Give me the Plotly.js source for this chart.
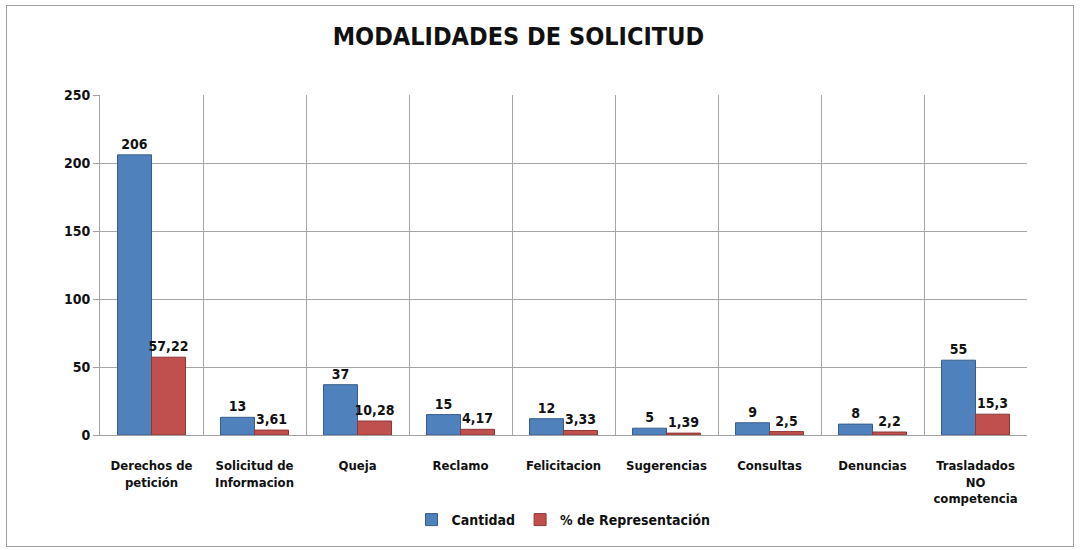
<!DOCTYPE html>
<html><head><meta charset="utf-8">
<script src="https://cdn.plot.ly/plotly-3.0.1.min.js"></script>
<style>
html,body{margin:0;padding:0;background:#fff;}
#wrap{position:relative;width:1080px;height:550px;}
#chart{position:absolute;left:0;top:0;width:1080px;height:550px;}
#frame{position:absolute;left:6px;top:5px;width:1068px;height:542px;border:1px solid #a0a0a0;pointer-events:none;box-sizing:border-box;}
</style></head>
<body>
<div id="wrap"><div id="chart"></div><div id="frame"></div></div>
<script>
const categories = ["Derechos de<br>petición", "Solicitud de<br>Informacion", "Queja", "Reclamo", "Felicitacion", "Sugerencias", "Consultas", "Denuncias", "Trasladados<br>NO<br>competencia"];
const cantidad = [206, 13, 37, 15, 12, 5, 9, 8, 55];
const porcentaje = [57.22, 3.61, 10.28, 4.17, 3.33, 1.39, 2.5, 2.2, 15.3];
const seriesNames = ["Cantidad", "% de Representación"];
const yTicks = [0, 50, 100, 150, 200, 250];

const fmt = v => String(v).replace('.', ',');
const FONT = '"DejaVu Sans Condensed", "Liberation Sans Narrow", sans-serif';

const traces = [
  {type:'bar', name:seriesNames[0], x:categories, y:cantidad,
   text:cantidad.map(fmt), textposition:'outside', cliponaxis:false, constraintext:'none',
   textfont:{family:FONT, size:14, color:'#111', weight:'bold'},
   marker:{color:'#4F81BD', line:{color:'#385D8A', width:1}}},
  {type:'bar', name:seriesNames[1], x:categories, y:porcentaje,
   text:porcentaje.map(fmt), textposition:'outside', cliponaxis:false, constraintext:'none',
   textfont:{family:FONT, size:14, color:'#111', weight:'bold'},
   marker:{color:'#C0504D', line:{color:'#8C3836', width:1}}}
];

const layout = {
  width:1080, height:550,
  paper_bgcolor:'rgba(0,0,0,0)', plot_bgcolor:'#fff',
  margin:{l:100, r:53, t:95, b:115},
  title:{text:'MODALIDADES DE SOLICITUD', x:0.48, xanchor:'center', y:0.935, yanchor:'middle',
         font:{family:FONT, size:25, color:'#111', weight:'bold'}},
  barmode:'group', bargap:0.34, bargroupgap:0,
  font:{family:FONT, size:13, color:'#111'},
  xaxis:{type:'category', tickson:'boundaries', showgrid:true, gridcolor:'#a6a6a6', gridwidth:1,
         showline:true, linecolor:'#a0a0a0', ticks:'', ticklabelstandoff:18,
         tickfont:{family:FONT, size:13, color:'#111', weight:'bold'}, mirror:false},
  yaxis:{range:[0,250], tickvals:yTicks, ticktext:yTicks.map(String), showgrid:true,
         gridcolor:'#a6a6a6', gridwidth:1, showline:true, linecolor:'#a0a0a0',
         ticks:'outside', ticklen:6, tickcolor:'#a0a0a0', zeroline:false,
         tickfont:{family:FONT, size:14, color:'#111', weight:'bold'}},
  legend:{orientation:'h', x:0.5, xanchor:'center', y:-0.25, yanchor:'middle',
          font:{family:FONT, size:14, color:'#111', weight:'bold'}, itemwidth:30, traceorder:'normal'},
  showlegend:true
};

Plotly.newPlot('chart', traces, layout, {displayModeBar:false, staticPlot:true});
</script>
</body></html>
